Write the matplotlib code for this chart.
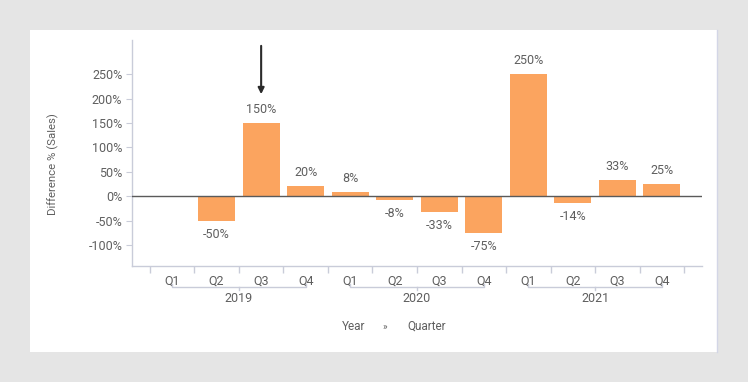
import numpy as np
import matplotlib.pyplot as plt
from matplotlib.patches import Rectangle
from matplotlib.lines import Line2D
import matplotlib.transforms as mtransforms

plt.rcParams['font.family'] = ['Roboto', 'DejaVu Sans']

years = ['2019', '2020', '2021']
quarters = ['Q1', 'Q2', 'Q3', 'Q4']
# difference % per quarter, first quarter has no previous value
diff_pct = [np.nan, -50, 150, 20, 8, -8, -33, -75, 250, -14, 33, 25]
y_ticks = [-100, -50, 0, 50, 100, 150, 200, 250]

W, H = 748, 382
BAR = '#fba45f'
TXT = '#5f5f5f'
AXC = '#c9ccd9'

fig = plt.figure(figsize=(W / 100, H / 100), dpi=100)
fig.patch.set_facecolor('#e5e5e5')
fig.patches.append(Rectangle((30 / W, 1 - 352 / H), 687 / W, 322 / H,
                             transform=fig.transFigure, facecolor='white',
                             edgecolor='none', zorder=-10))
fig.lines.append(Line2D([717 / W, 717 / W], [1 - 352 / H, 1 - 30 / H],
                        transform=fig.transFigure, color='#d3d6e6', lw=1, zorder=-9))

ax_l, ax_r, ax_t, ax_b = 132, 702, 40, 266
ax = fig.add_axes([ax_l / W, 1 - ax_b / H, (ax_r - ax_l) / W, (ax_b - ax_t) / H])
ax.set_facecolor('none')

n = len(diff_pct)
x = np.arange(n)
vals = np.array(diff_pct, dtype=float)
ax.bar(x, vals, width=0.83, color=BAR, zorder=2)
ax.axhline(0, color='#5a5a5a', lw=1, zorder=3)

for xi, v in zip(x, vals):
    if np.isnan(v):
        continue
    if v >= 0:
        ax.annotate(f'{v:.0f}%', (xi, v), xytext=(0, 5), textcoords='offset points',
                    ha='center', va='bottom', color=TXT, fontsize=9)
    else:
        ax.annotate(f'{v:.0f}%', (xi, v), xytext=(0, -5), textcoords='offset points',
                    ha='center', va='top', color=TXT, fontsize=9)

ax.set_xlim(-0.9, n - 1 + 0.9)
ax.set_ylim(-143, 320)

for s in ['top', 'right']:
    ax.spines[s].set_visible(False)
for s in ['left', 'bottom']:
    ax.spines[s].set_color(AXC)
    ax.spines[s].set_linewidth(1)

ax.set_yticks(y_ticks)
ax.set_yticklabels([f'{t}%' for t in y_ticks])
ax.tick_params(axis='y', length=4, color=AXC, labelcolor=TXT, labelsize=9, pad=3)

ax.set_xticks(x)
ax.set_xticklabels(quarters * len(years))
ax.set_xticks(np.arange(-0.5, n), minor=True)
ax.tick_params(axis='x', which='major', length=0, labelcolor=TXT, labelsize=9, pad=6)
ax.tick_params(axis='x', which='minor', length=5, color=AXC, width=1)

# year brackets under the quarter labels
ph = ax_b - ax_t
trans = mtransforms.blended_transform_factory(ax.transData, ax.transAxes)
yb = -21 / ph
for i, yr in enumerate(years):
    x0, x1 = i * 4, i * 4 + 3
    ax.plot([x0, x0, x1, x1], [yb + 3 / ph, yb, yb, yb + 3 / ph], transform=trans,
            color=AXC, lw=1, clip_on=False)
    xm = (x0 + x1) / 2
    ax.plot([xm, xm], [yb, yb - 3 / ph], transform=trans, color=AXC, lw=1, clip_on=False)
    ax.text(xm, -26 / ph, yr, transform=trans, ha='center', va='top',
            color=TXT, fontsize=9)

# arrow pointing at 2019 Q3
idx = 2
ax.annotate('', xy=(idx, vals[idx] + 59), xytext=(idx, vals[idx] + 158),
            arrowprops=dict(arrowstyle='-|>', color='#2b2b2b', lw=1.5,
                            mutation_scale=9, shrinkA=0, shrinkB=0),
            annotation_clip=False)

fig.text(53 / W, 1 - 164 / H, 'Difference % (Sales)', rotation=90,
         ha='center', va='center', color=TXT, fontsize=8.2)
fig.text(354 / W, 1 - 326 / H, 'Year', ha='center', va='center', color=TXT, fontsize=8.5)
fig.text(385 / W, 1 - 327 / H, '»', ha='center', va='center', color=TXT, fontsize=7)
fig.text(427 / W, 1 - 326 / H, 'Quarter', ha='center', va='center', color=TXT, fontsize=8.5)

fig.savefig('out.png', dpi=100, facecolor=fig.get_facecolor())
